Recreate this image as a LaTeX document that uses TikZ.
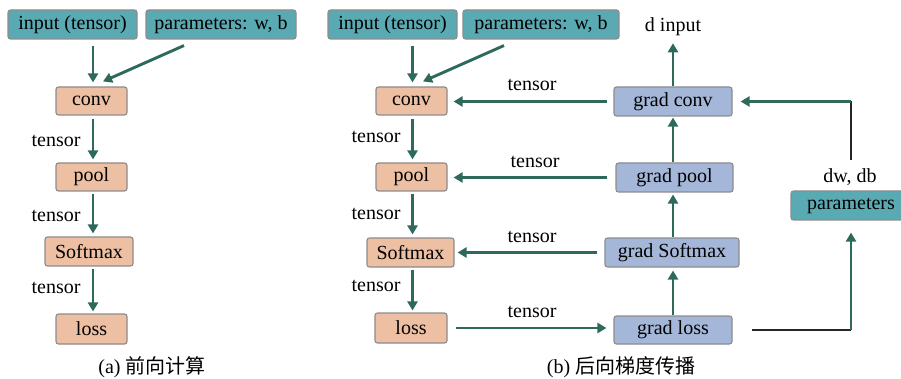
\documentclass[tikz,border=0pt]{standalone}
\usepackage{fontspec}
\setmainfont{Liberation Serif}
\newfontfamily\cjk{Noto Sans CJK SC}
\usetikzlibrary{arrows.meta}
\definecolor{tealbox}{HTML}{5AAAB4}
\definecolor{salmonbox}{HTML}{EDBFA3}
\definecolor{bluebox}{HTML}{A5B7D8}
\definecolor{arrgreen}{HTML}{2E6A5C}
\definecolor{boxline}{HTML}{8C8C8C}
\tikzset{
  box/.style={draw=boxline, line width=1.1pt, rounded corners=2.5pt, inner sep=0pt, minimum height=29pt, font=\fontsize{20pt}{22pt}\selectfont},
  tbox/.style={box, fill=tealbox},
  sbox/.style={box, fill=salmonbox},
  bbox/.style={box, fill=bluebox},
  lbl/.style={inner sep=0pt, font=\fontsize{20pt}{22pt}\selectfont},
  arr/.style={draw=arrgreen, line width=2.9pt, -{Triangle[length=9pt,width=10pt]}},
  kline/.style={draw=black!85, line width=2.9pt},
}
\begin{document}
\begin{tikzpicture}[x=1pt,y=-1pt]
\clip (0,0) rectangle (901,379);
\fill[white] (0,0) rectangle (901,379);
\coordinate (colA) at (93,0);
\coordinate (colB) at (412.5,0);
% ---------- left panel ----------
\node[tbox, minimum width=129pt] (inA) at (72.5,24.5) {input (tensor)};
\node[tbox, minimum width=150pt] (parA) at (221,24.5) {parameters: w, b};
\node[sbox, minimum width=71pt, minimum height=28pt] (convA) at (91.5,101) {conv};
\node[sbox, minimum width=71pt, minimum height=28pt] (poolA) at (91.5,177) {pool};
\node[sbox, minimum width=88pt] (softA) at (89,251.5) {Softmax};
\node[sbox, minimum width=71pt, minimum height=30pt] (lossA) at (91.5,329) {loss};
\node[lbl] (tA1) at (56,141) {tensor};
\node[lbl] (tA2) at (56,216) {tensor};
\node[lbl] (tA3) at (56,288) {tensor};
\node[lbl] (capA) at (152,367) {(a) {\cjk 前向计算}};

\draw[arr, shorten <=6pt, shorten >=4pt] (inA.south -| colA) -- (convA.north -| colA);
\draw[arr] ([xshift=-37pt,yshift=-6pt]parA.south) -- ([xshift=11.5pt,yshift=5pt]convA.north);
\draw[arr, shorten <=3pt, shorten >=3pt] (convA.south -| colA) -- (poolA.north -| colA);
\draw[arr, shorten <=2pt, shorten >=3pt] (poolA.south -| colA) -- (softA.north -| colA);
\draw[arr, shorten <=2pt, shorten >=2pt] (softA.south -| colA) -- (lossA.north -| colA);

% ---------- right panel ----------
\node[tbox, minimum width=129pt] (inB) at (392.5,24.5) {input (tensor)};
\node[tbox, minimum width=156pt] (parB) at (541,24.5) {parameters: w, b};
\node[sbox, minimum width=71pt, minimum height=28pt] (convB) at (411.5,101) {conv};
\node[sbox, minimum width=71pt, minimum height=28pt] (poolB) at (411.5,177) {pool};
\node[sbox, minimum width=87pt] (softB) at (410.5,252.5) {Softmax};
\node[sbox, minimum width=72pt, minimum height=30pt] (lossB) at (411,328) {loss};
\node[lbl] (tB1) at (376,137) {tensor};
\node[lbl] (tB2) at (376,214) {tensor};
\node[lbl] (tB3) at (376,286) {tensor};

\node[bbox, minimum width=118pt] (gconv) at (673,101.5) {grad conv};
\node[bbox, minimum width=117pt] (gpool) at (674.5,177.5) {grad pool};
\node[bbox, minimum width=134pt] (gsoft) at (672,252.5) {grad Softmax};
\node[bbox, minimum width=118pt, minimum height=28pt] (gloss) at (673,330) {grad loss};
\node[lbl] (dinput) at (673,27) {d input};
\node[lbl] (dwdb) at (850,177) {dw, db};
\node[tbox, minimum width=120pt] (parR) at (851,205.5) {parameters};

\node[lbl] (h1) at (532,85) {tensor};
\node[lbl] (h2) at (535,162) {tensor};
\node[lbl] (h3) at (532,237) {tensor};
\node[lbl] (h4) at (532,312) {tensor};
\node[lbl] (capB) at (621,367) {(b) {\cjk 后向梯度传播}};

\draw[arr, shorten <=6pt, shorten >=4pt] (inB.south -| colB) -- (convB.north -| colB);
\draw[arr] ([xshift=-37pt,yshift=-6pt]parB.south) -- ([xshift=11.5pt,yshift=5pt]convB.north);
\draw[arr, shorten <=3pt, shorten >=3pt] (convB.south -| colB) -- (poolB.north -| colB);
\draw[arr, shorten <=2pt, shorten >=3pt] (poolB.south -| colB) -- (softB.north -| colB);
\draw[arr, shorten <=2pt, shorten >=2pt] (softB.south -| colB) -- (lossB.north -| colB);

\draw[arr, shorten <=6pt, shorten >=6pt] (gconv.west) -- (convB.east |- gconv.west);
\draw[arr, shorten <=8pt, shorten >=6pt] (gpool.west) -- (poolB.east |- gpool.west);
\draw[arr, shorten <=7pt, shorten >=3pt] (gsoft.west) -- (softB.east |- gsoft.west);
\draw[arr, shorten <=8pt, shorten >=7pt] (lossB.east) -- (gloss.west |- lossB.east);

\draw[arr, shorten >=7pt] (gconv.north) -- (dinput.south);
\draw[arr, shorten >=1pt] (gpool.north -| gconv) -- (gconv.south);
\draw[arr, shorten >=2pt] (gsoft.north -| gconv) -- (gpool.south -| gconv);
\draw[arr, shorten >=3pt] (gloss.north) -- (gsoft.south -| gconv);

\draw[kline, shorten <=19pt] (gloss.east) -- (gloss.east -| parR.south);
\draw[arr, shorten >=12pt] (gloss.east -| parR.south) -- (parR.south);
\draw[kline, shorten <=8pt] (dwdb.north -| parR.south) -- (gconv.east -| parR.south);
\draw[arr, shorten >=8pt] (gconv.east -| parR.south) -- (gconv.east);
\end{tikzpicture}
\end{document}
